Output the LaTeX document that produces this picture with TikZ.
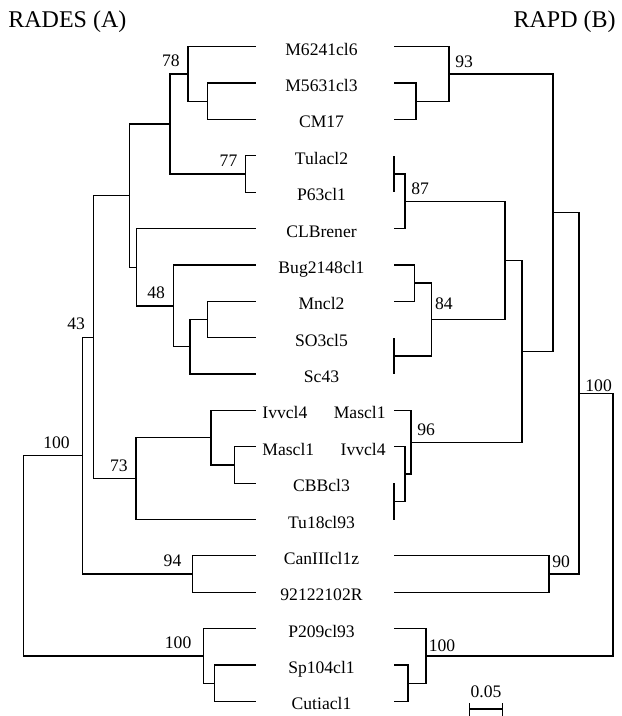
\documentclass[tikz,border=0pt]{standalone}
\usepackage{fontspec}
\setmainfont{Liberation Serif}
\begin{document}
\begin{tikzpicture}[x=0.5pt, y=-0.5pt,
	branch/.style={line width=0.6pt},
	taxon/.style={inner sep=0pt, font=\fontsize{8.8}{10}\selectfont},
	bootl/.style={above left, inner xsep=4pt, inner ysep=3.5pt, font=\fontsize{8.8}{10}\selectfont},
	bootr/.style={above right, inner sep=3pt, font=\fontsize{8.8}{10}\selectfont},
	heading/.style={inner sep=0pt, font=\fontsize{12}{14}\selectfont}]
	\useasboundingbox (0,0) rectangle (621,716);
	\node[heading, anchor=base west] (ta) at (8,27.3) {RADES (A)};
	\node[heading, anchor=base east] (tb) at (616,27.3) {RAPD (B)};
	\foreach \i in {0,...,18} {
		\coordinate (L\i) at (256,{46.7+36.37*\i});
		\coordinate (R\i) at (394,{46.7+36.37*\i});
	}
	\foreach \i/\t in {0/M6241cl6, 1/M5631cl3, 2/CM17, 3/Tulacl2, 4/P63cl1, 5/CLBrener, 6/Bug2148cl1, 7/Mncl2, 8/SO3cl5, 9/Sc43, 12/CBBcl3, 13/Tu18cl93, 14/CanIIIcl1z, 15/92122102R, 16/P209cl93, 17/Sp104cl1, 18/Cutiacl1}
		\node[taxon, anchor=base] (t\i) at (321.5,{55.2+36.37*\i}) {\t};
	\node[taxon, anchor=base west] (t10a) at (262,418.9) {Ivvcl4};
	\node[taxon, anchor=base west] (t11a) at (262,455.3) {Mascl1};
	\node[taxon, anchor=base east] (t10b) at (386,418.9) {Mascl1};
	\node[taxon, anchor=base east] (t11b) at (386,455.3) {Ivvcl4};
	% RADES tree
	\coordinate (lMC) at (207.7,101.3);
	\coordinate (l78) at (188,74);
	\coordinate (l77) at (245.7,174);
	\coordinate (lA) at (170,124);
	\coordinate (lMS) at (207.7,319.5);
	\coordinate (lMSS) at (190,346.8);
	\coordinate (l48) at (173.3,305.9);
	\coordinate (lCL) at (136.7,267.2);
	\coordinate (lB) at (129.3,195.6);
	\coordinate (lMC2) at (234.3,465);
	\coordinate (lIv) at (211,437.7);
	\coordinate (l73) at (136,478.6);
	\coordinate (l43) at (93.3,337.1);
	\coordinate (l94) at (192.7,574);
	\coordinate (l100a) at (82.7,455.6);
	\coordinate (lSC) at (214.3,683.2);
	\coordinate (l100b) at (203.3,655.9);
	\coordinate (lroot) at (23.3,555.8);
	\foreach \p/\c in {l78/L0, l78/lMC, lMC/L1, lMC/L2, l77/L3, l77/L4, lA/l78, lA/l77, lB/lA, lB/lCL, lCL/L5, lCL/l48, l48/L6, l48/lMSS, lMSS/lMS, lMSS/L9, lMS/L7, lMS/L8, l43/lB, l43/l73, l73/lIv, l73/L13, lIv/L10, lIv/lMC2, lMC2/L11, lMC2/L12, l100a/l43, l100a/l94, l94/L14, l94/L15, lroot/l100a, lroot/l100b, l100b/L16, l100b/lSC, lSC/L17, lSC/L18}
		\draw[branch] (\p) |- (\c);
	\node[bootl] (b78) at (l78) {78};
	\node[bootl] (b77) at (l77) {77};
	\node[bootl] (b48) at (l48) {48};
	\node[bootl] (b43) at (l43) {43};
	\node[bootl] (b73) at (l73) {73};
	\node[bootl, xshift=-1.5pt] (b94) at (l94) {94};
	\node[bootl, xshift=-2.3pt] (b100a) at (l100a) {100};
	\node[bootl, xshift=-1.8pt] (b100b) at (l100b) {100};
	% RAPD tree
	\coordinate (rMC) at (416,101.3);
	\coordinate (r93) at (449,74);
	\coordinate (rTP) at (394,174);
	\coordinate (r87) at (405,201.3);
	\coordinate (rBM) at (414.3,283.1);
	\coordinate (rSS) at (394,355.9);
	\coordinate (r84) at (431.7,319.5);
	\coordinate (rC) at (505,260.4);
	\coordinate (rCT) at (394,501.3);
	\coordinate (rIv) at (405,474);
	\coordinate (r96) at (411,442.2);
	\coordinate (rD) at (522,351.3);
	\coordinate (rE) at (553,212.7);
	\coordinate (r90) at (549,574);
	\coordinate (r100a) at (579,393.4);
	\coordinate (rSC) at (408,683.2);
	\coordinate (r100b) at (426,655.9);
	\coordinate (rroot) at (613,524.6);
	\foreach \p/\c in {r93/R0, r93/rMC, rMC/R1, rMC/R2, rTP/R3, rTP/R4, r87/rTP, r87/R5, rBM/R6, rBM/R7, rSS/R8, rSS/R9, r84/rBM, r84/rSS, rC/r87, rC/r84, rCT/R12, rCT/R13, rIv/R11, rIv/rCT, r96/R10, r96/rIv, rD/rC, rD/r96, rE/r93, rE/rD, r90/R14, r90/R15, r100a/rE, r100a/r90, rSC/R17, rSC/R18, r100b/R16, r100b/rSC, rroot/r100a, rroot/r100b}
		\draw[branch] (\p) |- (\c);
	\node[bootr] (c93) at (r93) {93};
	\node[bootr] (c87) at (r87) {87};
	\node[bootr, xshift=-1.5pt, yshift=1.75pt] (c84) at (r84) {84};
	\node[bootr] (c96) at (r96) {96};
	\node[bootr, xshift=-1.5pt] (c90) at (r90) {90};
	\node[bootr, yshift=-2.5pt] (c100a) at (r100a) {100};
	\node[bootr, xshift=-1.8pt, yshift=-0.9pt] (c100b) at (r100b) {100};
	% scale bar
	\coordinate (s1) at (469.3,709);
	\coordinate (s2) at (502.7,709);
	\draw[branch] (s1) -- (s2);
	\draw[branch] (s1) ++(0,-6) -- ++(0,13);
	\draw[branch] (s2) ++(0,-6) -- ++(0,13);
	\node[taxon, anchor=base] (sb) at (486,697.7) {0.05};
\end{tikzpicture}
\end{document}
